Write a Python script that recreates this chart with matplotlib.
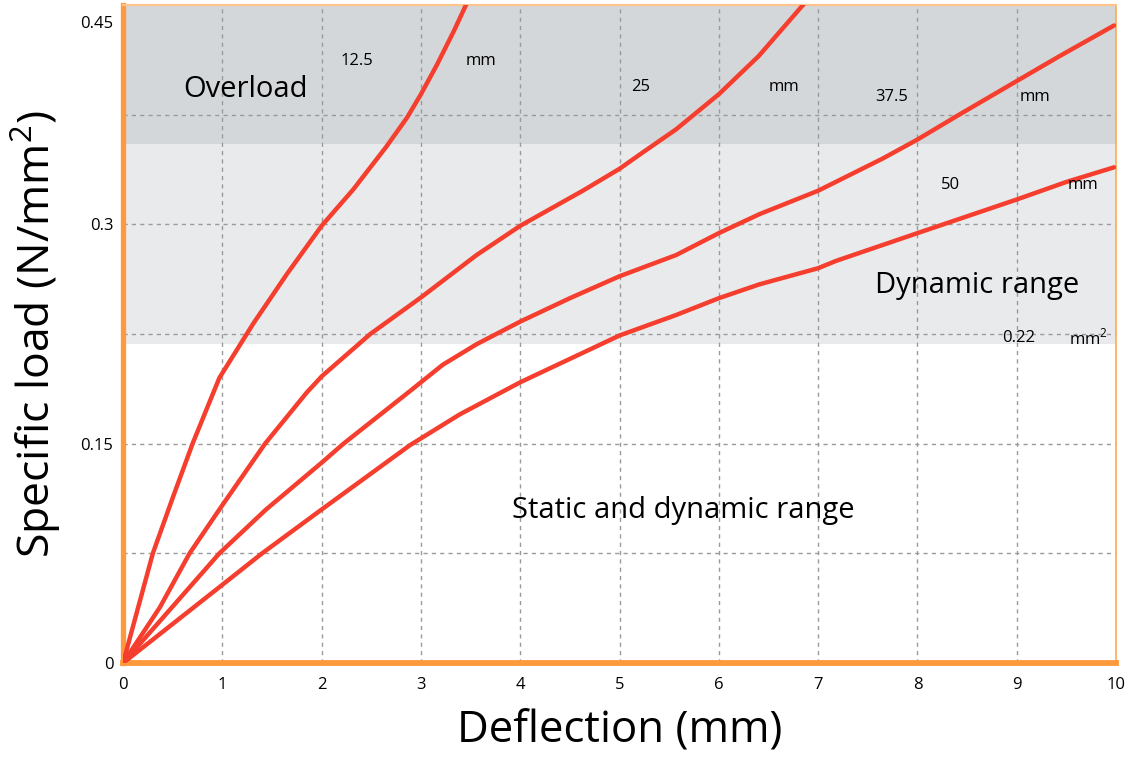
import numpy as np
import matplotlib.pyplot as plt

plt.rcParams['font.family'] = ['Open Sans', 'DejaVu Sans']
plt.rcParams['mathtext.fontset'] = 'custom'
plt.rcParams['mathtext.rm'] = 'Open Sans'

# curves: deflection (mm) vs specific load (N/mm2)
x_125 = [0, 0.30, 0.5, 0.7, 0.82, 0.97, 1.31, 1.65, 2.0, 2.32, 2.65, 2.86, 3.0, 3.16, 3.33, 3.46]
y_125 = [0, 0.075, 0.113, 0.15, 0.17, 0.195, 0.232, 0.266, 0.299, 0.324, 0.353, 0.373, 0.389, 0.409, 0.432, 0.451]

x_25 = [0, 0.37, 0.67, 0.97, 1.43, 1.85, 2.0, 2.49, 3.0, 3.56, 4.0, 4.63, 5.0, 5.23, 5.57, 6.0, 6.4, 6.86]
y_25 = [0, 0.038, 0.075, 0.105, 0.15, 0.185, 0.196, 0.225, 0.25, 0.279, 0.299, 0.323, 0.338, 0.349, 0.365, 0.389, 0.415, 0.451]

x_375 = [0, 0.97, 1.44, 2.0, 2.22, 2.89, 3.22, 3.56, 4.0, 4.5, 5.0, 5.57, 6.0, 6.41,
         7.0, 7.65, 8.0, 8.42, 9.0, 9.43, 9.98]
y_375 = [0, 0.075, 0.105, 0.137, 0.15, 0.186, 0.204, 0.218, 0.2335, 0.2495, 0.2645, 0.279, 0.294, 0.307,
         0.323, 0.345, 0.358, 0.375, 0.398, 0.415, 0.436]

x_50 = [0, 1.0, 1.4, 2.0, 2.89, 3.39, 4.0, 4.5, 5.0, 5.57, 6.0, 6.41, 7.0, 7.18, 8.0, 9.0, 9.5, 9.98]
y_50 = [0, 0.0535, 0.075, 0.105, 0.149, 0.17, 0.192, 0.208, 0.224, 0.238, 0.2495, 0.259, 0.27, 0.275,
        0.294, 0.317, 0.329, 0.339]

curves = [(x_125, y_125), (x_25, y_25), (x_375, y_375), (x_50, y_50)]

x_ticks = list(range(0, 11))
y_ticks = [0, 0.15, 0.3, 0.45]
y_tick_labels = ['0', '0.15', '0.3', '0.45']

static_top = 0.218
dynamic_top = 0.355

fig = plt.figure(figsize=(11.32, 7.6), dpi=100)
ax = fig.add_axes([0.1087, 0.1276, 0.8772, 0.8658])

ax.axhspan(dynamic_top, 0.45, color='#d4d7da', zorder=0, lw=0)
ax.axhspan(static_top, dynamic_top, color='#e9eaec', zorder=0, lw=0)

for xv in range(1, 10):
    ax.axvline(xv, color='#9a9a9a', lw=1, ls=(0, (3, 3)), zorder=1)
for yv in np.arange(0.075, 0.45, 0.075):
    ax.axhline(yv, color='#9a9a9a', lw=1, ls=(0, (3, 3)), zorder=1)

for xs, ys in curves:
    ax.plot(xs, ys, color='#f53e2e', lw=3.2, solid_capstyle='round',
            solid_joinstyle='round', zorder=3)

ax.set_xlim(0, 10)
ax.set_ylim(0, 0.45)
ax.set_xticks(x_ticks)
ax.set_yticks(y_ticks)
# top label sits a little below its tick in the original
ax.set_yticklabels(y_tick_labels[:-1] + [''])
ax.text(-0.01, 0.437, y_tick_labels[-1], transform=ax.get_yaxis_transform(),
        ha='right', va='center', fontsize=12)
ax.tick_params(axis='both', length=0, labelsize=12)
ax.tick_params(axis='x', pad=10)
ax.tick_params(axis='y', pad=7)

ax.spines['left'].set_color('#ff9a3c')
ax.spines['left'].set_linewidth(3.8)
ax.spines['bottom'].set_color('#ff9a3c')
ax.spines['bottom'].set_linewidth(4.2)
ax.spines['top'].set_color('#ffc48c')
ax.spines['top'].set_linewidth(1.6)
ax.spines['right'].set_color('#ffa850')
ax.spines['right'].set_linewidth(1.2)

ax.set_xlabel('Deflection (mm)', fontsize=31.5)
ax.set_ylabel('Specific load (N/mm$^2$)', fontsize=32)
ax.xaxis.set_label_coords(0.5, -0.07)
ax.yaxis.set_label_coords(-0.06, 0.5)

# region labels
ax.text(1.23, 0.392, 'Overload', fontsize=21, ha='center', va='center')
ax.text(8.6, 0.258, 'Dynamic range', fontsize=21, ha='center', va='center')
ax.text(5.64, 0.104, 'Static and dynamic range', fontsize=21, ha='center', va='center')

# curve labels
small = dict(fontsize=12, ha='center', va='center')
ax.text(2.36, 0.412, '12.5', **small)
ax.text(3.60, 0.412, 'mm', **small)
ax.text(5.21, 0.394, '25', **small)
ax.text(6.66, 0.394, 'mm', **small)
ax.text(7.74, 0.387, '37.5', **small)
ax.text(9.18, 0.387, 'mm', **small)
ax.text(8.33, 0.327, '50', **small)
ax.text(9.67, 0.327, 'mm', **small)
ax.text(9.02, 0.222, '0.22', **small)
ax.text(9.72, 0.222, 'mm$^2$', **small)

fig.savefig('out.png', dpi=100)
